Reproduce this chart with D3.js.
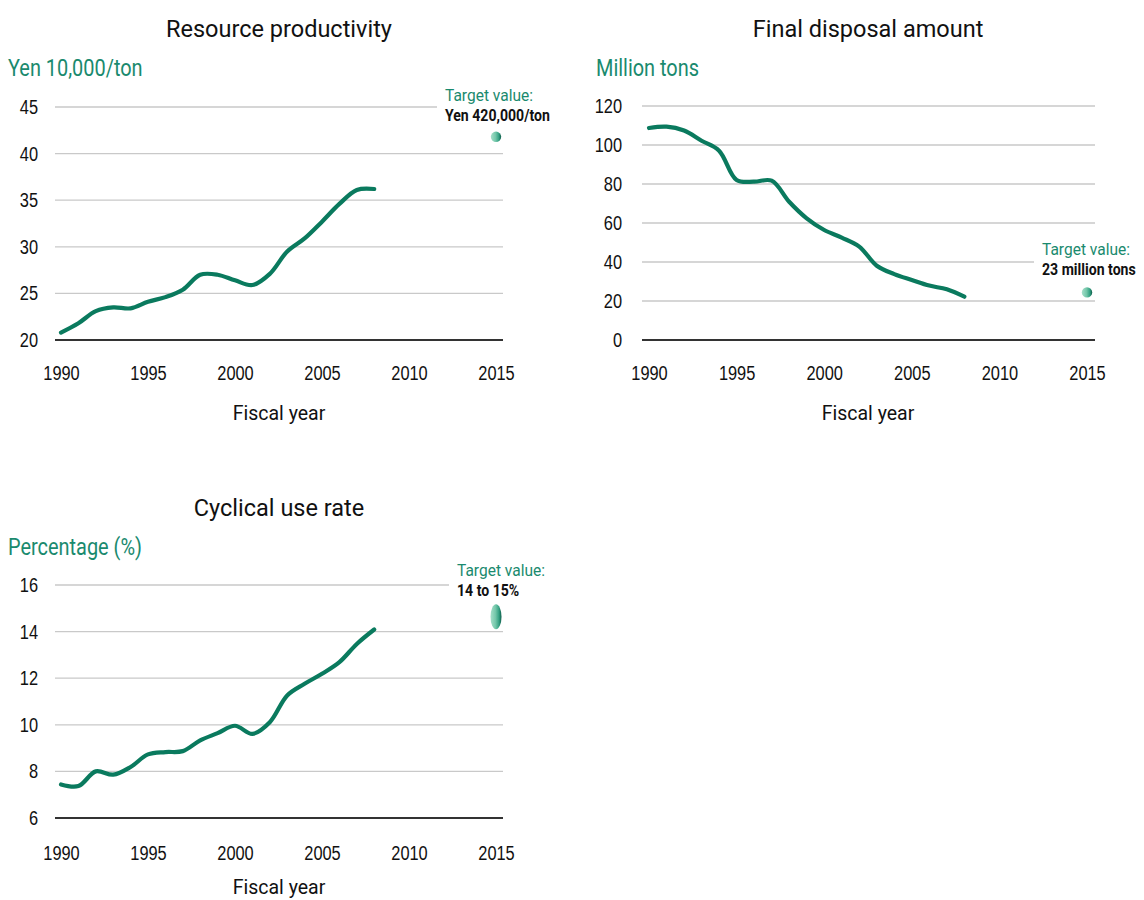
<!DOCTYPE html>
<html>
<head>
<meta charset="utf-8">
<script src="https://cdn.jsdelivr.net/npm/d3@7"></script>
<style>
  html, body { margin: 0; padding: 0; background: #fff; }
  svg { display: block; font-family: "Roboto", "Liberation Sans", sans-serif; }
</style>
</head>
<body>
<svg id="chart" width="1144" height="900"></svg>
<script>
// ---- data ----
const years = [1990,1991,1992,1993,1994,1995,1996,1997,1998,1999,2000,2001,2002,2003,2004,2005,2006,2007,2008];
const xTicks = [1990,1995,2000,2005,2010,2015];

const productivityValues = [20.8,21.8,23.1,23.5,23.4,24.1,24.6,25.4,27.0,27.0,26.4,25.9,27.1,29.5,30.9,32.7,34.6,36.1,36.2];
const productivityTicks = [20,25,30,35,40,45];
const productivityTarget = [41.8];

const disposalValues = [108.7,109.4,107.4,102.2,97.1,82.1,81.2,81.7,70.9,62.4,56.4,52.5,47.9,38.1,33.8,30.8,27.9,26.0,22.2];
const disposalTicks = [0,20,40,60,80,100,120];
const disposalTarget = [24.4];

const cyclicalValues = [7.44,7.37,8.0,7.86,8.19,8.73,8.83,8.87,9.33,9.64,9.96,9.61,10.11,11.26,11.76,12.19,12.69,13.47,14.09];
const cyclicalTicks = [6,8,10,12,14,16];
const cyclicalTarget = [14.1, 15.17];

const targetYear = 2015;

const titles = ["Resource productivity", "Final disposal amount", "Cyclical use rate"];
const units = ["Yen 10,000/ton", "Million tons", "Percentage (%)"];
const targetLabels = ["Yen 420,000/ton", "23 million tons", "14 to 15%"];
const targetCaption = "Target value:";
const xAxisTitle = "Fiscal year";

// ---- drawing ----
const svg = d3.select("#chart");
const GREEN = "#0a7a5e";
const TEAL_TEXT = "#1a8a6e";

const defs = svg.append("defs");
const grad = defs.append("linearGradient").attr("id", "dotGrad")
  .attr("x1", "0%").attr("x2", "100%").attr("y1", "0%").attr("y2", "0%");
grad.append("stop").attr("offset", "0%").attr("stop-color", "#a6dfca");
grad.append("stop").attr("offset", "45%").attr("stop-color", "#74c7aa");
grad.append("stop").attr("offset", "78%").attr("stop-color", "#33a082");
grad.append("stop").attr("offset", "100%").attr("stop-color", "#0d5a47");

function addText(parent, x, y, str, o) {
  return parent.append("text")
    .attr("transform", `translate(${x},${y}) scale(${o.sx || 1},1)`)
    .attr("text-anchor", o.anchor || "start")
    .attr("font-size", o.size)
    .attr("font-weight", o.weight || "normal")
    .attr("fill", o.fill || "#111")
    .text(str);
}

function drawChart(cfg) {
  const g = svg.append("g");
  const x = d3.scaleLinear().domain([1990, 2015]).range([cfg.x0, cfg.x1]);
  const y = d3.scaleLinear().domain(cfg.domain).range([cfg.yBottom, cfg.yTop]);

  addText(g, cfg.titleX, cfg.titleY, cfg.title, {anchor: "middle", size: 24.5, sx: 0.96, fill: "#111"});
  addText(g, cfg.unitX, cfg.unitY, cfg.unit, {size: 24, sx: 0.83, fill: TEAL_TEXT});

  // gridlines
  cfg.ticks.forEach((t, i) => {
    g.append("line")
      .attr("x1", cfg.gridL).attr("x2", cfg.gridR)
      .attr("y1", y(t)).attr("y2", y(t))
      .attr("stroke", i === 0 ? "#333" : "#c9c9c9")
      .attr("stroke-width", i === 0 ? 2 : 1.3);
  });

  // y axis labels
  const yAxis = d3.axisLeft(y).tickValues(cfg.ticks).tickSize(0).tickPadding(0);
  const ya = g.append("g").attr("transform", `translate(${cfg.yLabelX},0)`).call(yAxis);
  ya.select(".domain").remove();
  ya.selectAll("text").attr("font-size", 20.5).attr("fill", "#111")
    .attr("font-family", null).attr("x", 0).attr("transform", "scale(0.8,1)");

  // x axis labels
  const xAxis = d3.axisBottom(x).tickValues(xTicks).tickFormat(d3.format("d")).tickSize(0).tickPadding(0);
  const xa = g.append("g").attr("transform", `translate(0,${cfg.xLabelY})`).call(xAxis);
  xa.select(".domain").remove();
  xa.selectAll("text").attr("font-size", 20.5).attr("fill", "#111")
    .attr("font-family", null).attr("y", 0).attr("dy", "0.71em").attr("transform", "scale(0.8,1)");

  // x axis title
  addText(g, cfg.titleX, cfg.xTitleY, xAxisTitle, {anchor: "middle", size: 21, sx: 0.93});

  // line
  const line = d3.line().x((d, i) => x(years[i])).y(d => y(d)).curve(d3.curveCatmullRom.alpha(0.5));
  g.append("path").datum(cfg.values).attr("d", line)
    .attr("fill", "none").attr("stroke", GREEN).attr("stroke-width", 4.2)
    .attr("stroke-linecap", "round").attr("stroke-linejoin", "round");

  // target label with white backing
  const lg = g.append("g").attr("transform", `translate(${cfg.labelX},${cfg.labelY})`);
  addText(lg, 0, 0, targetCaption, {size: 16, sx: 0.97, fill: TEAL_TEXT});
  addText(lg, 0, 19.5, cfg.targetLabel, {size: 16, sx: 0.88, weight: "bold", fill: "#111"});
  const bb = lg.node().getBBox();
  lg.insert("rect", ":first-child").attr("fill", "#fff")
    .attr("x", bb.x - 8).attr("y", bb.y - 2).attr("width", bb.width + 12).attr("height", bb.height + 4);

  // target marker
  if (cfg.target.length === 1) {
    g.append("circle").attr("cx", x(targetYear)).attr("cy", y(cfg.target[0])).attr("r", 5.2)
      .attr("fill", "url(#dotGrad)");
  } else {
    const yc = (y(cfg.target[0]) + y(cfg.target[1])) / 2;
    const ry = Math.abs(y(cfg.target[0]) - y(cfg.target[1])) / 2;
    g.append("ellipse").attr("cx", x(targetYear)).attr("cy", yc).attr("rx", 5.5).attr("ry", ry)
      .attr("fill", "url(#dotGrad)");
  }
}

drawChart({
  title: titles[0], unit: units[0], values: productivityValues, ticks: productivityTicks,
  target: productivityTarget, targetLabel: targetLabels[0], domain: [20, 45],
  x0: 61, x1: 496, yBottom: 340, yTop: 107, gridL: 55, gridR: 503,
  titleX: 279, titleY: 37, unitX: 8, unitY: 76, yLabelX: 38, xLabelY: 365, xTitleY: 420,
  labelX: 445, labelY: 101
});
drawChart({
  title: titles[1], unit: units[1], values: disposalValues, ticks: disposalTicks,
  target: disposalTarget, targetLabel: targetLabels[1], domain: [0, 120],
  x0: 649, x1: 1087, yBottom: 340, yTop: 106, gridL: 642, gridR: 1095,
  titleX: 868, titleY: 37, unitX: 596, unitY: 76, yLabelX: 622, xLabelY: 365, xTitleY: 420,
  labelX: 1042, labelY: 255
});
drawChart({
  title: titles[2], unit: units[2], values: cyclicalValues, ticks: cyclicalTicks,
  target: cyclicalTarget, targetLabel: targetLabels[2], domain: [6, 16],
  x0: 61, x1: 496, yBottom: 818, yTop: 585, gridL: 55, gridR: 503,
  titleX: 279, titleY: 516, unitX: 8, unitY: 555, yLabelX: 38, xLabelY: 845, xTitleY: 894,
  labelX: 457, labelY: 576
});
</script>
</body>
</html>
